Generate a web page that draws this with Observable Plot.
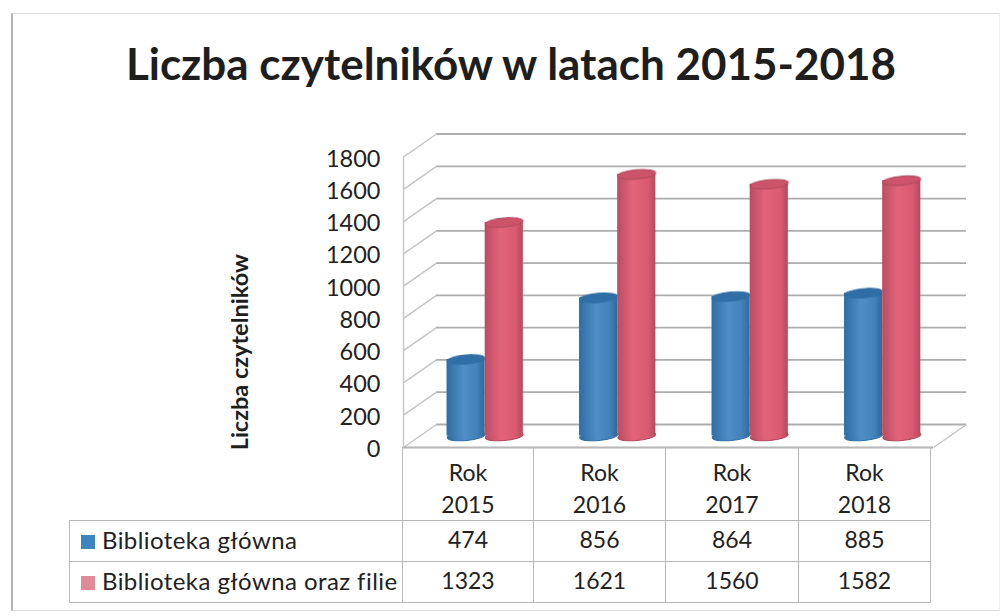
<!DOCTYPE html>
<html lang="pl">
<head>
<meta charset="utf-8">
<script src="https://cdn.jsdelivr.net/npm/d3@7"></script>
<script src="https://cdn.jsdelivr.net/npm/@observablehq/plot@0.6"></script>
<style>
  html, body { margin: 0; padding: 0; background: #fff; }
  #page { position: relative; width: 1002px; height: 616px; overflow: hidden; font-family: Lato, sans-serif; color: #222; }
  #frame { position: absolute; left: 11px; top: 13px; width: 989px; height: 598px; border-left: 2px solid #b4b4b4; border-top: 1px solid #dcdcdc; border-bottom: 1px solid #dcdcdc; border-right: 1px solid #f0f0f0; box-sizing: border-box; }
  #title { position: absolute; left: 0; right: 0; top: 33px; text-align: center; padding-left: 20px; box-sizing: border-box; font-weight: 700; font-size: 44px; line-height: 60px; color: #1e1e1e; white-space: nowrap; }
  #chart { position: absolute; left: 0; top: 120px; }
  #chart svg { display: block; background: transparent; }
  #chart svg g[aria-label="rect"], #chart svg g[aria-label="dot"], #chart svg g[aria-label="rule"], #chart svg g[aria-label="link"] { filter: blur(0.5px); }
  table { position: absolute; left: 69px; top: 447px; border-collapse: collapse; table-layout: fixed; width: 861px; font-size: 23px; }
  td { border: 1.5px solid #b8b8b8; text-align: center; padding: 0; white-space: nowrap; }
  td.blank { border-left: none; border-top: none; }
  td.name { text-align: left; padding-left: 11px; font-size: 24px; letter-spacing: 0.42px; }
  td.head { height: 72px; line-height: 32px; padding-top: 8px; box-sizing: border-box; border-top: 1.5px solid #b8b8b8; }
  tr.r1 td, tr.r2 td { height: 41px; box-sizing: border-box; padding-bottom: 4px; }
  .key { display: inline-block; width: 14px; height: 14px; margin-right: 7px; vertical-align: 0; }
</style>
</head>
<body>
<div id="page">
  <div id="frame"></div>
  <div id="title">Liczba czytelników w latach 2015-2018</div>
  <div id="chart"></div>
  <table id="tbl"></table>
</div>
<script>
const years = [2015, 2016, 2017, 2018];
const mainLibrary = [474, 856, 864, 885];
const withBranches = [1323, 1621, 1560, 1582];
const tickValues = [0, 200, 400, 600, 800, 1000, 1200, 1400, 1600, 1800];
const seriesNames = ["Biblioteka główna", "Biblioteka główna oraz filie"];
const keyColors = ["#3d85c0", "#e08a98"];

// Pseudo-3D depth, expressed in the units of the chart's own scales
const depthX = 0.249;
const depthY = 142.5;
const barW = 0.288;

const ellipse = {
  draw(ctx, size) {
    const rx = Math.sqrt(size / Math.PI), ry = rx * 0.24, k = 0.5523;
    ctx.moveTo(-rx, 0);
    ctx.bezierCurveTo(-rx, -k * ry, -k * rx, -ry, 0, -ry);
    ctx.bezierCurveTo(k * rx, -ry, rx, -k * ry, rx, 0);
    ctx.bezierCurveTo(rx, k * ry, k * rx, ry, 0, ry);
    ctx.bezierCurveTo(-k * rx, ry, -rx, k * ry, -rx, 0);
    ctx.closePath();
  }
};

const defs = () => {
  const g = d3.create("svg:defs");
  g.html(`
    <linearGradient id="gBlue" x1="0" x2="1" y1="0" y2="0">
      <stop offset="0" stop-color="#2f6ea4"/><stop offset="0.45" stop-color="#4f8ec6"/>
      <stop offset="0.8" stop-color="#4182b8"/><stop offset="1" stop-color="#2d6a9c"/>
    </linearGradient>
    <linearGradient id="gRed" x1="0" x2="1" y1="0" y2="0">
      <stop offset="0" stop-color="#bb4c62"/><stop offset="0.4" stop-color="#e2637a"/>
      <stop offset="0.8" stop-color="#da5a72"/><stop offset="1" stop-color="#b5495e"/>
    </linearGradient>`);
  return g.node();
};

function cylinder(values, offset, grad, cap, edge) {
  const rows = values.map((v, i) => ({ i, v }));
  const cx = d => d.i + 0.492 + depthX / 2 + offset;
  const base = depthY / 2;
  const common = { symbol: ellipse, r: 19, rotate: -5, stroke: edge, strokeWidth: 1 };
  return [
    Plot.dot(rows, { ...common, x: cx, y: () => base, fill: grad }),
    Plot.rect(rows, {
      x1: d => cx(d) - barW / 2, x2: d => cx(d) + barW / 2,
      y1: () => base, y2: d => d.v + base, fill: grad
    }),
    Plot.dot(rows, { ...common, x: cx, y: d => d.v + base, fill: cap })
  ];
}

const plot = Plot.plot({
  width: 1002,
  height: 335,
  marginLeft: 403,
  marginRight: 69,
  marginTop: 36.5,
  marginBottom: 8,
  style: { fontFamily: "Lato, sans-serif", background: "transparent", overflow: "visible" },
  x: { domain: [0, 4], axis: null },
  y: { domain: [0, 1800], label: null },
  marks: [
    defs,
    // back wall gridlines
    Plot.ruleY(tickValues, { x1: () => depthX, x2: () => 4 + depthX, y: d => d + depthY, stroke: "#adadad", strokeWidth: 1.8 }),
    // left wall diagonals
    Plot.link(tickValues, { x1: () => 0, x2: () => depthX, y1: d => d, y2: d => d + depthY, stroke: "#c4c4c4", strokeWidth: 1.5 }),
    // front-left axis line and floor edges
    Plot.ruleX([0], { y1: 0, y2: 1800, stroke: "#c8c8c8", strokeWidth: 1.5 }),
    Plot.ruleY([0], { x1: () => 0, x2: () => 4, stroke: "#b0b0b0", strokeWidth: 2 }),
    Plot.link([4], { x1: d => d, x2: d => d + depthX, y1: () => 0, y2: () => depthY, stroke: "#c4c4c4", strokeWidth: 1.5 }),
    Plot.axisY({ ticks: tickValues, tickSize: 0, tickPadding: 23, dy: 2, tickFormat: d => String(d), fontSize: 23.5, fill: "#222", label: null }),
    ...cylinder(mainLibrary, -0.144, "url(#gBlue)", "#2f6fa6", "#2f6fa6"),
    ...cylinder(withBranches, 0.144, "url(#gRed)", "#cd536b", "#b04a5e"),
    Plot.text(["Liczba czytelników"], { frameAnchor: "left", textAnchor: "middle", dx: -163, dy: 50, rotate: -90, fontSize: 23.5, fontWeight: 700, fill: "#1e1e1e" })
  ]
});
document.getElementById("chart").appendChild(plot);

const tbl = d3.select("#tbl");
const cg = tbl.append("colgroup");
cg.append("col").style("width", "333px");
[131, 132, 133, 132].forEach(w => cg.append("col").style("width", w + "px"));

const head = tbl.append("tr");
head.append("td").attr("class", "blank");
years.forEach(y => head.append("td").attr("class", "head").html(`Rok<br>${y}`));

[mainLibrary, withBranches].forEach((vals, s) => {
  const tr = tbl.append("tr").attr("class", "r" + (s + 1));
  const name = tr.append("td").attr("class", "name");
  name.append("span").attr("class", "key").style("background", keyColors[s]);
  name.append("span").text(seriesNames[s]);
  vals.forEach(v => tr.append("td").text(v));
});
</script>
</body>
</html>
